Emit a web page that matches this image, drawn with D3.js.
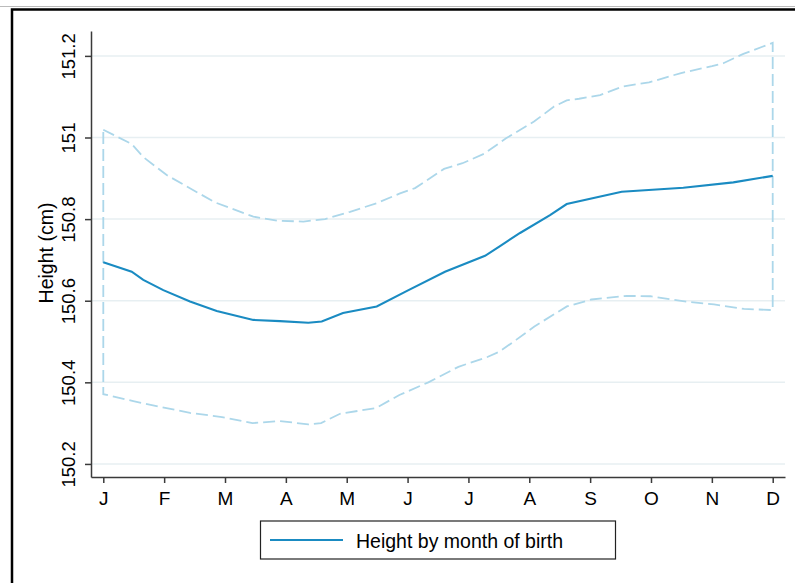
<!DOCTYPE html>
<html>
<head>
<meta charset="utf-8">
<script src="https://cdn.jsdelivr.net/npm/d3@7"></script>
<style>
  body { margin: 0; background: #fff; }
  svg { display: block; font-family: "Liberation Sans", Arial, sans-serif; }
</style>
</head>
<body>
<div id="chart"></div>
<script>
// month labels on the x axis (1 = Jan ... 12 = Dec)
const monthTicks = [1, 2, 3, 4, 5, 6, 7, 8, 9, 10, 11, 12];
const monthLabels = ["J", "F", "M", "A", "M", "J", "J", "A", "S", "O", "N", "D"];
const heightTicks = [150.2, 150.4, 150.6, 150.8, 151, 151.2];

// mean height by month of birth
const meanMonths = [1, 1.467, 1.657, 1.986, 2.425, 2.864, 3.465, 3.904, 4.369, 4.589, 4.939,
  5.493, 5.991, 6.615, 7.273, 7.519, 7.848, 8.341, 8.615, 9.519, 10.531, 11.353, 12];
const meanValues = [150.694, 150.671, 150.651, 150.626, 150.598, 150.575, 150.553, 150.550, 150.546, 150.549, 150.570,
  150.586, 150.624, 150.671, 150.710, 150.734, 150.766, 150.810, 150.837, 150.867, 150.877, 150.890, 150.906];

// upper confidence bound
const upperMonths = [1, 1.467, 1.657, 2.042, 2.371, 2.836, 3.465, 3.871, 4.288, 4.644, 5.055, 5.493, 5.876,
  6.123, 6.599, 6.903, 7.256, 7.618, 8.078, 8.407, 8.615, 8.818, 9.163, 9.533, 9.968, 10.494, 11.003,
  11.189, 11.518, 11.628, 12];
const upperValues = [151.019, 150.984, 150.952, 150.908, 150.880, 150.841, 150.806, 150.796, 150.794, 150.800, 150.818, 150.839, 150.863,
  150.876, 150.923, 150.937, 150.960, 150.998, 151.039, 151.076, 151.091, 151.095, 151.104, 151.125, 151.135, 151.158, 151.175,
  151.182, 151.205, 151.211, 151.232];

// lower confidence bound
const lowerMonths = [1, 1.493, 1.932, 2.425, 2.951, 3.452, 3.904, 4.369, 4.578, 4.890, 5.482, 5.865,
  6.342, 6.835, 7.312, 7.509, 7.783, 8.084, 8.618, 9.021, 9.605, 9.991, 10.615, 11.036, 11.529, 12];
const lowerValues = [150.371, 150.354, 150.340, 150.325, 150.315, 150.300, 150.305, 150.297, 150.300, 150.323, 150.337, 150.369,
  150.400, 150.438, 150.462, 150.475, 150.504, 150.537, 150.586, 150.603, 150.612, 150.611, 150.597, 150.591, 150.580, 150.577];

const width = 795, height = 583;
const lineColor = "#1a8bc2";
const bandColor = "#acd7ea";
const gridColor = "#e7eff2";
const axisColor = "#3a3a3a";

const svg = d3.select("#chart").append("svg")
  .attr("width", width)
  .attr("height", height);

// outer frame (cut off at the right and bottom)
svg.append("line")
  .attr("x1", 0).attr("x2", width).attr("y1", 6.5).attr("y2", 6.5)
  .attr("stroke", "#bbb").attr("stroke-width", 1);
svg.append("rect")
  .attr("x", 12).attr("y", 9.5)
  .attr("width", 900).attr("height", 700)
  .attr("fill", "none").attr("stroke", "#000").attr("stroke-width", 2.5);

// scales: domain padded so the axis lines run past the first/last tick
const x = d3.scaleLinear().domain([0.798, 12.202]).range([91, 785]);
const y = d3.scaleLinear().domain([150.168, 151.261]).range([477, 31]);

// grid lines
svg.append("g")
  .selectAll("line")
  .data(heightTicks)
  .join("line")
    .attr("x1", 91).attr("x2", 785)
    .attr("y1", d => y(d)).attr("y2", d => y(d))
    .attr("stroke", gridColor)
    .attr("stroke-width", 1.5);

// y axis
const yAxis = svg.append("g")
  .attr("transform", "translate(91,0)")
  .call(d3.axisLeft(y).tickValues(heightTicks).tickSize(6).tickSizeOuter(0).tickFormat(d3.format("")));
yAxis.select(".domain").attr("stroke", axisColor).attr("stroke-width", 1.5);
yAxis.selectAll(".tick line").attr("stroke", axisColor).attr("stroke-width", 1.5);
yAxis.selectAll(".tick text")
  .attr("x", null).attr("dy", null)
  .attr("transform", "translate(-16,0) rotate(-90)")
  .attr("text-anchor", "middle")
  .attr("fill", "#000")
  .style("font-size", "18.5px");

// x axis
const xAxis = svg.append("g")
  .attr("transform", "translate(0,477)")
  .call(d3.axisBottom(x).tickValues(monthTicks).tickSize(6).tickSizeOuter(0)
    .tickFormat((d, i) => monthLabels[i]));
xAxis.select(".domain").attr("stroke", axisColor).attr("stroke-width", 1.5);
xAxis.selectAll(".tick line").attr("stroke", axisColor).attr("stroke-width", 1.5);
xAxis.selectAll(".tick text")
  .attr("y", 28).attr("dy", null)
  .attr("fill", "#000")
  .style("font-size", "19px");

// y axis title
svg.append("text")
  .attr("transform", "translate(53,253) rotate(-90)")
  .attr("text-anchor", "middle")
  .style("font-size", "19.5px")
  .text("Height (cm)");

// confidence band outline (upper J->D, down, lower D->J, back up)
const upperPts = upperMonths.map((m, i) => [m, upperValues[i]]);
const lowerPts = lowerMonths.map((m, i) => [m, lowerValues[i]]);
const bandPts = upperPts.concat(lowerPts.slice().reverse());

const line = d3.line()
  .x(d => x(d[0]))
  .y(d => y(d[1]));

svg.append("path")
  .attr("d", line(bandPts) + "Z")
  .attr("fill", "none")
  .attr("stroke", bandColor)
  .attr("stroke-width", 1.8)
  .attr("stroke-dasharray", "12,5");

// mean line
svg.append("path")
  .datum(meanMonths.map((m, i) => [m, meanValues[i]]))
  .attr("d", line)
  .attr("fill", "none")
  .attr("stroke", lineColor)
  .attr("stroke-width", 2.1);

// legend
const legend = svg.append("g");
legend.append("rect")
  .attr("x", 260.5).attr("y", 521)
  .attr("width", 355).attr("height", 38)
  .attr("fill", "#fff")
  .attr("stroke", "#222").attr("stroke-width", 1.2);
legend.append("line")
  .attr("x1", 270).attr("x2", 343).attr("y1", 540).attr("y2", 540)
  .attr("stroke", lineColor).attr("stroke-width", 2.1);
legend.append("text")
  .attr("x", 356).attr("y", 548)
  .style("font-size", "19.5px")
  .text("Height by month of birth");
</script>
</body>
</html>
